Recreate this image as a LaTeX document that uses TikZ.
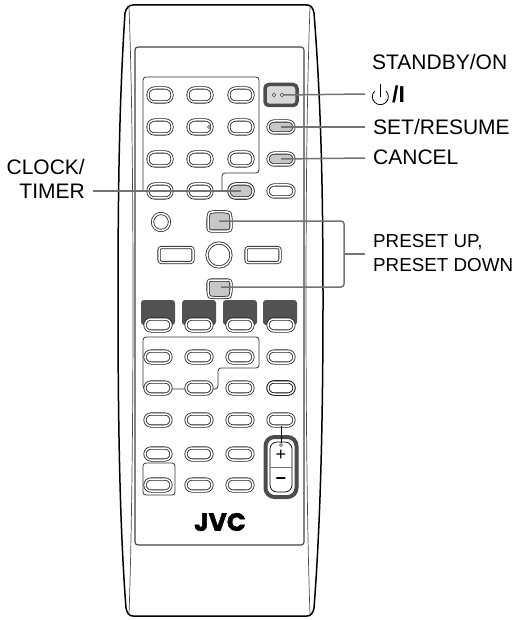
\documentclass[tikz,border=0pt]{standalone}
\usepackage{fontspec}
\setmainfont{Liberation Sans}
\newfontfamily\logofont[FakeBold=1.6]{Poppins}
\tikzset{
  btn/.style={draw=black!85,double=white,double distance=1.5pt,line width=0.8pt,rounded corners=6.5pt,minimum width=24pt,minimum height=14pt,inner sep=0pt},
  btnsmall/.style={btn,minimum width=26pt,minimum height=12pt,rounded corners=6pt},
  btnround/.style={btn,shape=circle,minimum size=17pt,minimum width=17pt,rounded corners=0pt},
  btnrect/.style={btn,minimum width=34pt,minimum height=15pt,rounded corners=2.5pt},
  hilite/.style={fill=black!22},
  leader/.style={draw=black!55,line width=1.5pt},
  frameline/.style={draw=black!80,line width=0.8pt,rounded corners=3pt},
  block/.style={fill=black!68,rounded corners=3pt,minimum width=34pt,minimum height=25pt,inner sep=0pt},
  caption/.style={font=\fontsize{21}{24}\selectfont,inner sep=0pt},
  dot/.style={draw=black!80,fill=white,shape=circle,line width=0.6pt,minimum size=3.5pt,inner sep=0pt}
}
\begin{document}
\begin{tikzpicture}[x=1pt,y=-1pt]
\useasboundingbox (0,0) rectangle (516,620);
% case
\draw[line width=1.5pt,line join=round] (133,5) -- (307,5) .. controls (311,5) and (313,8) .. (314,13)
  .. controls (320,90) and (323,170) .. (323,300) .. controls (323,430) and (320,530) .. (314,608)
  .. controls (313,613) and (311,616) .. (307,616) -- (133,616)
  .. controls (129,616) and (127,613) .. (126,608) .. controls (120,530) and (118,430) .. (118,300)
  .. controls (118,170) and (120,90) .. (125,13) .. controls (126,8) and (129,5) .. (133,5) -- cycle;
\draw[black!70,line width=0.7pt] (129,7) .. controls (131,60) and (133,150) .. (133,300) .. controls (133,450) and (131,560) .. (129,614);
\draw[black!70,line width=0.7pt] (310,7) .. controls (308,60) and (306,150) .. (306,300) .. controls (306,450) and (308,560) .. (310,614);
\draw[black!75,line width=1.1pt,rounded corners=3pt] (135,47) rectangle (304,545);
% frames
\draw[frameline] (143,191) -- (143,77) -- (259,77) -- (259,173) -- (222,173) -- (222,191);
\draw[frameline] (143,389) -- (143,337) -- (259,337) -- (259,368) -- (218,368) -- (218,389) -- cycle;
\draw[frameline] (143,463) rectangle (175,495);
% upper buttons
\foreach \r/\ypos in {1/95,2/127,3/159,4/191}
  \foreach \c/\xpos in {1/160,2/200,3/241}
    \node[btn,fill=white] (k\r\c) at (\xpos,\ypos) {};
\node[btn,hilite] (clockkey) at (241,191) {};
\node[dot,minimum size=3pt] (numdot) at (209,127) {};
\node[draw=black!70,line width=3.5pt,rounded corners=4pt,fill=black!15,minimum width=32pt,minimum height=21pt,inner sep=0pt] (standby) at (281,95) {};
\node[dot] (ledleft) at (274,95) {};
\node[dot] (ledright) at (282,95) {};
\node[btnsmall,hilite] (setkey) at (281,127) {};
\node[btnsmall,hilite] (cancelkey) at (281,159) {};
\node[btnsmall] (k44) at (281,191) {};
% middle keys
\node[btnround] (disc) at (161,222) {};
\node[btnrect] (leftkey) at (176,255) {};
\node[btnround,minimum size=24pt] (midkey) at (219,255) {};
\node[btnrect] (rightkey) at (263,255) {};
\draw[btn,hilite,rounded corners=3pt] (208,231) -- (208,216) .. controls (210,211) and (229,211) .. (231,216) -- (231,231) -- cycle;
\draw[btn,hilite,rounded corners=3pt] (208,280) -- (231,280) -- (231,294) .. controls (229,298) and (210,298) .. (208,294) -- cycle;
\coordinate (upkey) at (219,221);
\coordinate (downkey) at (221,287);
% source blocks
\foreach \c/\xpos in {1/158,2/199,3/240,4/280}
  \node[block] (src\c) at (\xpos,312.5) {};
% lower buttons
\foreach \r/\ypos in {1/325,2/357,3/388,4/420}
  \foreach \c/\xpos in {1/158,2/199,3/240,4/281}
    \node[btnsmall,fill=white] (m\r\c) at (\xpos,\ypos) {};
\node[btnsmall,fill=white,draw=black] (m34) at (281,388) {};
\foreach \r/\ypos in {5/454,6/485}
  \foreach \c/\xpos in {1/158,2/199,3/240}
    \node[btnsmall,fill=white] (m\r\c) at (\xpos,\ypos) {};
% volume
\node[draw=black!70,line width=4pt,rounded corners=9pt,fill=white,minimum width=31pt,minimum height=60pt,inner sep=0pt] (volume) at (281,467) {};
\node[draw=black,line width=0.7pt,rounded corners=7pt,minimum width=22pt,minimum height=50pt,inner sep=0pt] (volinner) at (281,467) {};
\draw[black!55,line width=1pt] (volinner.west) -- (volinner.east);
\node[dot,minimum size=3pt] (voldot) at (281,445) {};
\draw[line width=0.7pt] (m44) -- (voldot);
\node[font=\fontsize{18}{18}\selectfont,inner sep=0pt] (plus) at (281,455) {+};
\node[font=\fontsize{18}{18}\selectfont\bfseries,inner sep=0pt] (minus) at (281,481) {−};
\node[font=\logofont\bfseries\fontsize{25}{25}\selectfont,inner sep=0pt] (logo) at (220,522) {JVC};
% labels
\node[caption,anchor=west] (standbytext) at (372,62) {STANDBY/ON};
\node[caption,anchor=west] (settext) at (373,127) {SET/RESUME};
\node[caption,anchor=west] (canceltext) at (373,157) {CANCEL};
\node[caption,font=\fontsize{18.8}{24}\selectfont,anchor=west,align=left] (presettext) at (373,253) {PRESET UP,\\PRESET DOWN};
\node[caption,anchor=east,align=right] (clocktext) at (85,179) {CLOCK/\\TIMER};
\coordinate (powerend) at (365,94);
\coordinate (setend) at (365,127);
\coordinate (cancelend) at (365,158);
\coordinate (presetend) at (365,254);
\coordinate (bracket) at (344,254);
\coordinate (clockend) at (93,191);
\draw[line width=0.8pt] (386,91) arc[start angle=-45,end angle=225,radius=8];
\draw[line width=0.8pt] (380.3,84) -- (380.3,97);
\node[font=\fontsize{23}{23}\selectfont\bfseries,anchor=west,inner sep=0pt] (slashbar) at (392,94) {/I};
% leaders
\draw[leader] (ledright) -- (powerend);
\draw[leader] (setkey.center) -- (setend);
\draw[leader] (cancelkey.center) -- (cancelend);
\draw[leader] (clockend) -- (clockkey.center);
\draw[leader,rounded corners=3pt] (upkey) -| (bracket) |- (downkey);
\draw[leader] (bracket) -- (presetend);
\end{tikzpicture}
\end{document}
